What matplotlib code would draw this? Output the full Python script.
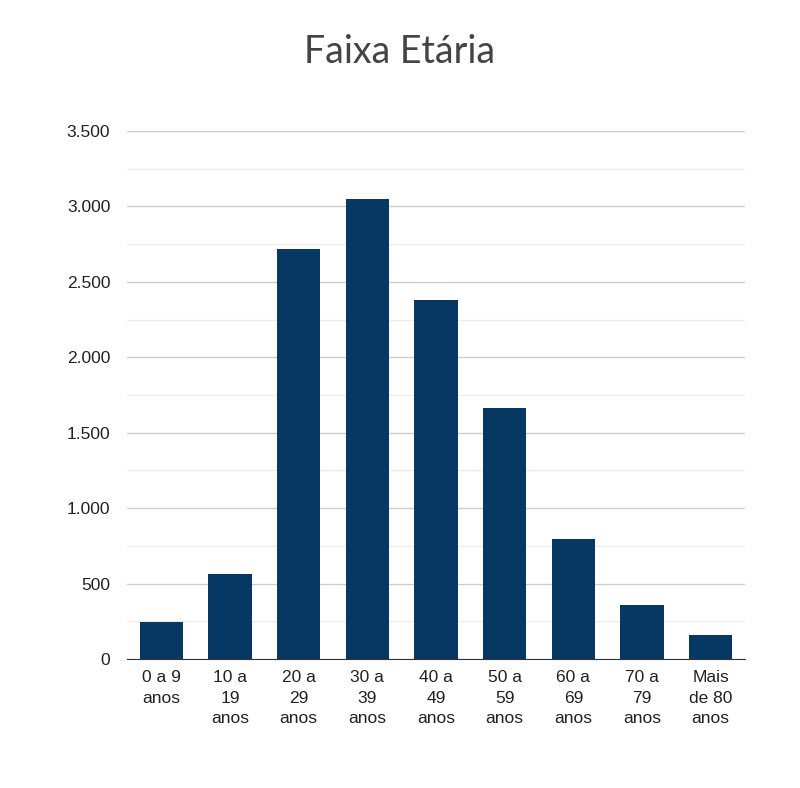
import matplotlib
matplotlib.use("Agg")
import matplotlib.pyplot as plt
from matplotlib.ticker import FuncFormatter, MultipleLocator

categories = ["0 a 9\nanos", "10 a\n19\nanos", "20 a\n29\nanos", "30 a\n39\nanos", "40 a\n49\nanos",
              "50 a\n59\nanos", "60 a\n69\nanos", "70 a\n79\nanos", "Mais\nde 80\nanos"]
values = [245, 564, 2718, 3050, 2380, 1664, 796, 358, 159]

fig = plt.figure(figsize=(8, 7.88), dpi=100)
ax = fig.add_axes([127/800, 1-659/788, 618/800, 528/788])
x = range(len(values))
ax.bar(x, values, width=0.63, color="#073763", zorder=3)
ax.set_xlim(-0.5, len(values)-0.5)
ax.set_ylim(0, 3500)
ax.yaxis.set_major_locator(MultipleLocator(500))
ax.yaxis.set_minor_locator(MultipleLocator(250))
ax.yaxis.set_major_formatter(FuncFormatter(lambda v, p: f"{int(v):,}".replace(",", ".")))
ax.grid(axis="y", which="major", color="#cccccc", lw=1, zorder=0)
ax.grid(axis="y", which="minor", color="#ebebeb", lw=1, zorder=0)
for s in ["top", "right", "left"]:
    ax.spines[s].set_visible(False)
ax.spines["bottom"].set_color("#333333")
ax.tick_params(axis="y", which="both", length=0, pad=12, labelsize=12.5, labelcolor="#222222")
ax.tick_params(axis="x", length=0, pad=8, labelsize=12.5, labelcolor="#222222")
ax.set_xticks(list(x))
ax.set_xticklabels(categories, family="Liberation Sans", linespacing=1.45, va="top")
for t in ax.get_yticklabels():
    t.set_family("Liberation Sans")
fig.text(0.5, 1-52/788, "Faixa Etária", ha="center", va="center", fontsize=27, family="Lato", color="#444444")
fig.savefig("out.png", dpi=100, facecolor="white")
